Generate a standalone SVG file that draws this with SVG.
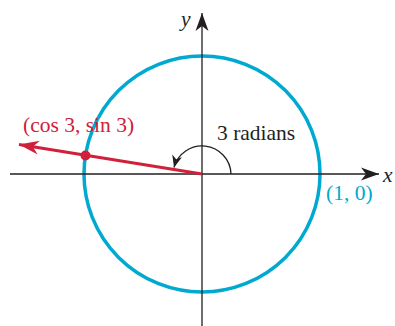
<svg xmlns="http://www.w3.org/2000/svg" width="395" height="326" viewBox="0 0 395 326">
  <style>
    .axis { stroke: #231f20; stroke-width: 1.3; fill: none; }
    .lbl { font-family: "Liberation Serif", "Times New Roman", serif; font-size: 21.5px; }
  </style>
  <defs>
    <marker id="ah" viewBox="-20 -8 22 16" markerWidth="22" markerHeight="16" refX="0" refY="0" orient="auto" markerUnits="userSpaceOnUse">
      <path d="M0,0 L-18,-6.5 L-13,0 L-18,6.5 Z" fill="#231f20"/>
    </marker>
    <marker id="ahs" viewBox="-14 -6 16 12" markerWidth="16" markerHeight="12" refX="0" refY="0" orient="auto" markerUnits="userSpaceOnUse">
      <path d="M0,0 L-12,-5 L-8.5,0 L-12,5 Z" fill="#231f20"/>
    </marker>
    <marker id="ahr" viewBox="-22 -8 24 16" markerWidth="24" markerHeight="16" refX="0" refY="0" orient="auto" markerUnits="userSpaceOnUse">
      <path d="M0,0 L-20,-7 L-14,0 L-20,7 Z" fill="#d0203a"/>
    </marker>
  </defs>
  <g id="circle">
    <circle cx="202" cy="174" r="118" fill="none" stroke="#00a9cf" stroke-width="3.5"/>
  </g>
  <g id="connectors">
    <line class="axis" x1="10" y1="174" x2="379" y2="174" marker-end="url(#ah)"/>
    <line class="axis" x1="202" y1="326" x2="202" y2="13" marker-end="url(#ah)"/>
    <path class="axis" d="M231 174 A29 29 0 0 0 174 167.5" marker-end="url(#ahs)"/>
    <line x1="202" y1="174" x2="19" y2="144.5" stroke="#d0203a" stroke-width="3" marker-end="url(#ahr)"/>
  </g>
  <g id="point">
    <circle cx="85.5" cy="155.5" r="5" fill="#d0203a"/>
  </g>
  <g id="labels">
    <text class="lbl" x="181" y="26" font-style="italic" fill="#231f20">y</text>
    <text class="lbl" x="383" y="182" font-style="italic" fill="#231f20">x</text>
    <text class="lbl" x="217" y="140" fill="#231f20">3 radians</text>
    <text class="lbl" x="23" y="132" fill="#d0203a">(cos 3, sin 3)</text>
    <text class="lbl" x="326" y="200" fill="#00a9cf">(1, 0)</text>
  </g>
</svg>
